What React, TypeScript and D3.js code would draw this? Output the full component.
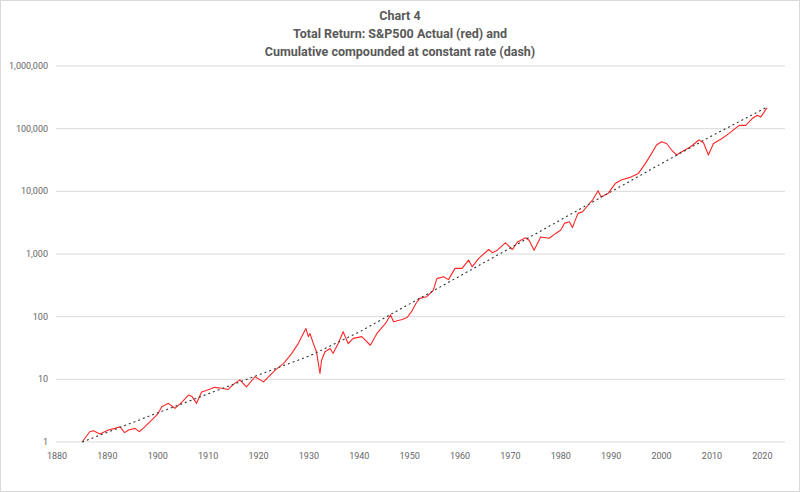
import React from "react";
import * as d3 from "d3";

// S&P500 total return index (1885 = 1)
const actualYears = [
  1885.0, 1886.5, 1887.2, 1888.5, 1890.2, 1891.5, 1892.5, 1893.4, 1894.2, 1895.5,
  1896.3, 1897.1, 1898.8, 1900.0, 1900.8, 1902.1, 1903.4, 1904.7, 1906.1, 1906.8,
  1907.7, 1908.7, 1910.0, 1911.3, 1912.7, 1914.0, 1915.0, 1916.3, 1917.6, 1919.3,
  1921.0, 1923.3, 1925.0, 1926.6, 1927.9, 1929.4, 1929.9, 1930.2, 1930.9, 1931.5,
  1932.2, 1932.5, 1933.2, 1934.2, 1934.8, 1935.8, 1936.8, 1937.8, 1938.8, 1940.5,
  1942.2, 1943.5, 1945.2, 1946.2, 1946.8, 1948.5, 1949.5, 1950.5, 1951.3, 1952.0,
  1953.4, 1954.7, 1955.4, 1956.7, 1957.7, 1959.0, 1960.4, 1961.7, 1962.4, 1963.7,
  1965.7, 1966.4, 1967.4, 1969.0, 1970.4, 1971.4, 1973.0, 1973.7, 1974.7, 1976.0,
  1977.7, 1979.0, 1980.0, 1980.7, 1981.7, 1982.3, 1983.4, 1984.3, 1985.7, 1986.3,
  1987.4, 1988.0, 1989.4, 1990.8, 1992.0, 1993.7, 1995.4, 1996.8, 1998.0, 1999.0,
  2000.0, 2001.0, 2002.0, 2003.0, 2004.0, 2005.7, 2007.4, 2008.3, 2009.3, 2010.3,
  2012.0, 2013.4, 2015.4, 2016.7, 2018.0, 2019.0, 2019.7, 2020.8, 2021.0,
];
const actualValues = [
  1.0, 1.46, 1.51, 1.34, 1.55, 1.65, 1.75, 1.41, 1.55, 1.65,
  1.46, 1.65, 2.24, 2.8, 3.66, 4.14, 3.45, 4.24, 5.6, 5.3,
  4.14, 6.3, 6.8, 7.45, 7.2, 6.9, 8.3, 9.8, 7.6, 11,
  9.1, 14, 18, 26, 37.5, 65, 48, 54, 37, 27.6,
  12.4, 20, 27.6, 31, 26, 37, 57.6, 37, 45, 48,
  35, 54, 78, 106, 83, 90, 97, 125, 165, 196,
  208, 265, 405, 435, 390, 590, 590, 800, 625, 850,
  1180, 1050, 1150, 1510, 1180, 1560, 1820, 1660, 1150, 1870,
  1780, 2130, 2410, 3080, 3260, 2640, 4450, 4700, 6400, 7250,
  10200, 8150, 9300, 13300, 15200, 16700, 19300, 27900, 40000, 55000,
  62000, 58000, 45600, 38000, 42700, 51000, 66000, 60000, 38000, 58000,
  69800, 84000, 113000, 113000, 145000, 164000, 154000, 209000, 215000,
];

// constant-rate compounded curve
const dashYears = [1885, 1900, 1915, 1930, 1940, 1950, 1970, 1990, 2000, 2010, 2021];
const dashValues = [1, 2.92, 8.3, 23.4, 57, 160, 1250, 9900, 27800, 77000, 222000];

const yTicks = [1, 10, 100, 1000, 10000, 100000, 1000000];
const xTicks = [1880, 1890, 1900, 1910, 1920, 1930, 1940, 1950, 1960, 1970, 1980, 1990, 2000, 2010, 2020];

const titleLines = [
  "Chart 4",
  "Total Return: S&P500 Actual (red) and",
  "Cumulative compounded at constant rate (dash)",
];

const W = 800;
const H = 492;

export default function App() {
  const x = d3.scaleLinear().domain([1880, 2024.5]).range([57, 785]);
  const y = d3.scaleLog().domain([1, 1e6]).range([442, 66]);

  const line = d3
    .line<[number, number]>()
    .x((d) => x(d[0]))
    .y((d) => y(d[1]));

  const actual = actualYears.map((yr, i) => [yr, actualValues[i]] as [number, number]);
  const dash = dashYears.map((yr, i) => [yr, dashValues[i]] as [number, number]);
  const fmt = d3.format(",");
  const font = "Roboto, 'Open Sans', sans-serif";

  return (
    <div style={{ position: "absolute", left: 0, top: 0 }}>
      <svg width={W} height={H} style={{ display: "block", background: "#fff" }}>
        <rect x={0.5} y={0.5} width={W - 1} height={H - 1} fill="#fff" stroke="#d9d9d9" />

        {titleLines.map((t, i) => (
          <text
            key={i}
            x={400}
            y={20 + i * 18}
            textAnchor="middle"
            fontFamily={font}
            fontWeight="bold"
            fontSize={12.5}
            fill="#595959"
          >
            {t}
          </text>
        ))}

        {yTicks.map((t) => (
          <g key={t}>
            <line x1={56} x2={785} y1={y(t)} y2={y(t)} stroke="#d9d9d9" strokeWidth={1} />
            <text
              x={48}
              y={y(t)}
              dy="0.35em"
              textAnchor="end"
              fontFamily={font}
              fontSize={9}
              fill="#666"
            >
              {fmt(t)}
            </text>
          </g>
        ))}

        {xTicks.map((t) => (
          <text
            key={t}
            x={x(t)}
            y={459}
            textAnchor="middle"
            fontFamily={font}
            fontSize={9}
            fill="#666"
          >
            {t}
          </text>
        ))}

        <path d={line(actual) || ""} fill="none" stroke="#ff0000" strokeOpacity={0.85} strokeWidth={1.1} strokeLinejoin="round" />
        <path d={line(dash) || ""} fill="none" stroke="#333" strokeWidth={1.1} strokeDasharray="2,3" />
      </svg>
    </div>
  );
}
